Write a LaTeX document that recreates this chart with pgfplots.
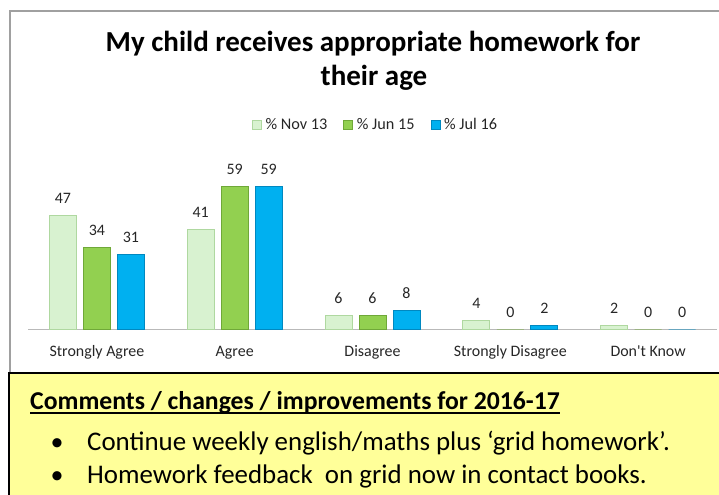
\documentclass[border=0pt]{standalone}
\usepackage{fontspec}
\setmainfont{Carlito}
\usepackage{pgfplots}
\pgfplotsset{compat=1.18}
\usetikzlibrary{calc}
\definecolor{novfill}{HTML}{D8F2D0}
\definecolor{novdraw}{HTML}{AFD8A0}
\definecolor{junfill}{HTML}{92D050}
\definecolor{jundraw}{HTML}{6FA838}
\definecolor{julfill}{HTML}{00B0F0}
\definecolor{juldraw}{HTML}{0088C0}
\definecolor{yellowbox}{HTML}{FFFF99}
\definecolor{framegray}{HTML}{A0A0A0}
\begin{document}
\begin{tikzpicture}
\path[use as bounding box] (0,0) rectangle (719bp,495bp);
% chart frame
\draw[framegray, line width=2bp] (10bp,100bp) -- (10bp,484bp) -- (760bp,484bp);
% title
\node[anchor=base, inner sep=0, font=\fontsize{29.1}{34}\selectfont\bfseries] at (373bp,443bp) {My child receives appropriate homework for};
\node[anchor=base, inner sep=0, font=\fontsize{29.1}{34}\selectfont\bfseries] at (374bp,409bp) {their age};
\begin{axis}[
  at={(28bp,165bp)}, anchor=south west,
  scale only axis, width=689bp, height=146.4bp,
  xmin=-0.5, xmax=4.5, ymin=0, ymax=60,
  axis y line=none, axis x line*=bottom,
  x axis line style={draw=gray!55, line width=1bp, -},
  xtick={0,1,2,3,4},
  xticklabels={Strongly Agree, Agree, Disagree, Strongly Disagree, Don\textquotesingle t Know},
  major tick length=0,
  xticklabel style={font=\fontsize{16}{19}\selectfont, text=black!85, anchor=base, yshift=-27bp},
  ybar=7bp, bar width=27bp,
  nodes near coords,
  /pgf/number format/assume math mode=true,
  every node near coord/.append style={font=\fontsize{16}{19}\selectfont, text=black!85, anchor=base, yshift=12bp, inner sep=0},
  legend columns=-1,
  legend style={draw=none, fill=none, at={(axis description cs:0.5,1)}, anchor=center, yshift=58.6bp, xshift=3bp,
    font=\fontsize{16.3}{19}\selectfont, text=black!85,
    /tikz/every odd column/.append style={column sep=2bp},
    /tikz/every even column/.append style={column sep=14bp}},
  legend image code/.code={\draw[#1, line width=0.6bp] (0bp,-4.5bp) rectangle (9bp,4.5bp);},
]
\addplot[fill=novfill, draw=novdraw, line width=1bp] coordinates {(0,47) (1,41) (2,6) (3,4) (4,2)};
\addplot[fill=junfill, draw=jundraw, line width=1bp] coordinates {(0,34) (1,59) (2,6) (3,0) (4,0)};
\addplot[fill=julfill, draw=juldraw, line width=1bp] coordinates {(0,31) (1,59) (2,8) (3,2) (4,0)};
\legend{\% Nov 13, \% Jun 15, \% Jul 16}
\end{axis}
% comments box
\draw[black, line width=2.5bp, fill=yellowbox] (9bp,122bp) rectangle (760bp,-30bp);
\node[anchor=base west, inner sep=0, font=\fontsize{25.8}{30}\selectfont\bfseries] (hdr) at (30bp,85bp) {Comments / changes / improvements for 2016-17};
\draw[black, line width=1.6bp] ($(hdr.base west)+(0,-3bp)$) -- ($(hdr.base east)+(0,-3bp)$);
\node[anchor=base, inner sep=0, font=\fontsize{26}{30}\selectfont] at (57bp,44bp) {•};
\node[anchor=base west, inner sep=0, font=\fontsize{27}{30}\selectfont] at (87bp,44bp) {Continue weekly english/maths plus ‘grid homework’.};
\node[anchor=base, inner sep=0, font=\fontsize{26}{30}\selectfont] at (57bp,12bp) {•};
\node[anchor=base west, inner sep=0, font=\fontsize{27}{30}\selectfont] at (87bp,12bp) {Homework feedback\ \ on grid now in contact books.};
\end{tikzpicture}
\end{document}
